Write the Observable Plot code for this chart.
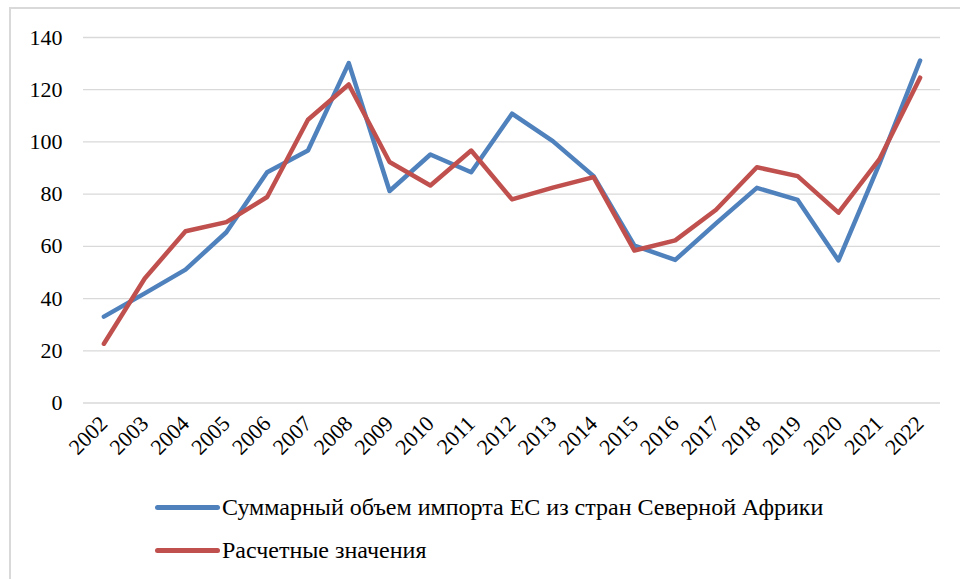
<!DOCTYPE html>
<html>
<head>
<meta charset="utf-8">
<script src="https://cdn.jsdelivr.net/npm/d3@7"></script>
<script src="https://cdn.jsdelivr.net/npm/@observablehq/plot@0.6"></script>
<style>
  html, body { margin: 0; padding: 0; background: #fff; }
  #wrap { position: relative; width: 960px; height: 579px; overflow: hidden; font-family: 'Liberation Serif', serif; }
  #frame { position: absolute; left: 9px; top: 7px; width: 1000px; height: 700px; border-left: 2px solid #d9d9d9; border-top: 2px solid #d9d9d9; box-sizing: border-box; }
  #chart { position: absolute; left: 0; top: 0; }
  #legend { position: absolute; left: 155px; top: 497px; font-size: 24px; color: #000; font-family: 'Liberation Serif', serif; }
  .row { display: flex; align-items: center; height: 20px; margin-bottom: 23px; white-space: nowrap; }
  .swatch { display: inline-block; width: 65px; height: 5px; border-radius: 3px; margin-right: 2px; flex: none; }
</style>
</head>
<body>
<div id="wrap">
  <div id="frame"></div>
  <div id="chart"></div>
  <div id="legend"></div>
</div>
<script>
const years = [2002,2003,2004,2005,2006,2007,2008,2009,2010,2011,2012,2013,2014,2015,2016,2017,2018,2019,2020,2021,2022];
const importVolume = [33.1,42,51.1,65.4,88.4,96.7,130.2,81.2,95.2,88.4,110.8,100.3,86.9,60.3,54.8,68.8,82.4,77.8,54.6,91.5,131.2];
const estimated = [22.7,47.7,65.8,69.3,78.9,108.5,122,92.3,83.3,96.7,78,82.5,86.5,58.4,62.3,74,90.3,86.9,72.9,93.3,124.6];
const seriesNames = ["Суммарный объем импорта ЕС из стран Северной Африки", "Расчетные значения"];
const seriesColors = ["#4f81bd", "#c0504d"];
const yTicks = [0,20,40,60,80,100,120,140];

const rows = [];
years.forEach((y, i) => {
  rows.push({year: String(y), value: importVolume[i], series: seriesNames[0]});
  rows.push({year: String(y), value: estimated[i], series: seriesNames[1]});
});

const fam = "'Liberation Serif', serif";
const chart = Plot.plot({
  width: 960,
  height: 480,
  marginTop: 37,
  marginBottom: 77.5,
  marginLeft: 83,
  marginRight: 20,
  style: {fontFamily: fam, fontSize: "22px", color: "#000", background: "transparent"},
  x: {type: "point", domain: years.map(String), padding: 0.5, round: false, label: null},
  y: {domain: [0, 140], label: null},
  color: {domain: seriesNames, range: seriesColors},
  marks: [
    Plot.ruleY(yTicks, {stroke: "#d9d9d9", strokeWidth: 1.3}),
    Plot.axisY(yTicks, {tickSize: 0, tickPadding: 21, label: null, fontSize: 22, fill: "#000"}),
    Plot.axisX({tickSize: 0, tickRotate: -45, tickPadding: 17, label: null, fontSize: 22, fill: "#000"}),
    Plot.lineY(rows, {x: "year", y: "value", stroke: "series", strokeWidth: 4.5, strokeLinejoin: "round", strokeLinecap: "round"})
  ]
});
document.getElementById("chart").appendChild(chart);

const legend = document.getElementById("legend");
seriesNames.forEach((name, i) => {
  const row = document.createElement("div");
  row.className = "row";
  const sw = document.createElement("span");
  sw.className = "swatch";
  sw.style.background = seriesColors[i];
  const t = document.createElement("span");
  t.textContent = name;
  row.appendChild(sw);
  row.appendChild(t);
  legend.appendChild(row);
});
</script>
</body>
</html>
